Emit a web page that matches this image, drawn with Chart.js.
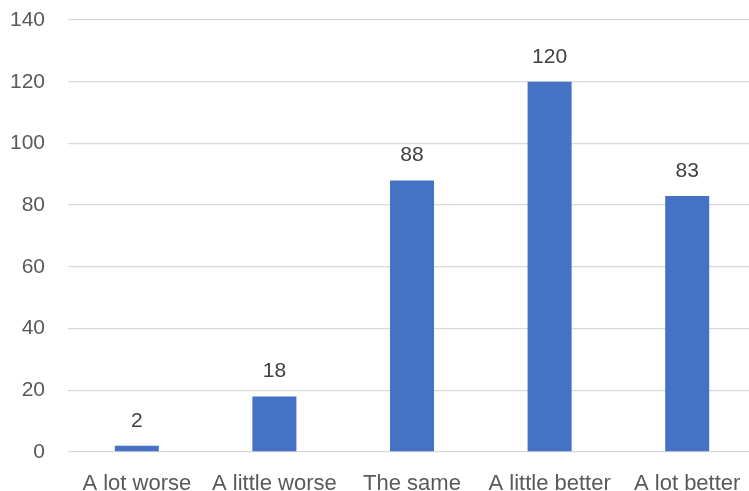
<!DOCTYPE html>
<html>
<head>
<meta charset="utf-8">
<script src="https://cdn.jsdelivr.net/npm/chart.js@4/dist/chart.umd.min.js"></script>
<style>
  html, body { margin: 0; padding: 0; background: #fff; overflow: hidden; width: 749px; height: 491px; }
  #wrap { width: 757px; height: 491px; }
</style>
</head>
<body>
<div id="wrap"><canvas id="c" width="757" height="491"></canvas></div>
<script>
const categories = ["A lot worse", "A little worse", "The same", "A little better", "A lot better"];
const responses = [2, 18, 88, 120, 83];
const yTicks = [0, 20, 40, 60, 80, 100, 120, 140];

const FONT = "'Liberation Sans', Arial, sans-serif";

// Draws each bar's value centred above it
const valueLabels = {
  id: "valueLabels",
  afterDatasetsDraw(chart) {
    const ctx = chart.ctx;
    const meta = chart.getDatasetMeta(0);
    ctx.save();
    ctx.font = "21px " + FONT;
    ctx.fillStyle = "#404040";
    ctx.textAlign = "center";
    ctx.textBaseline = "middle";
    meta.data.forEach((bar, i) => {
      ctx.fillText(String(chart.data.datasets[0].data[i]), bar.x, bar.y - 25);
    });
    ctx.restore();
  }
};

new Chart(document.getElementById("c"), {
  type: "bar",
  data: {
    labels: categories,
    datasets: [{
      data: responses,
      backgroundColor: "#4472C4",
      borderWidth: 0,
      categoryPercentage: 1,
      barPercentage: 0.32
    }]
  },
  options: {
    responsive: false,
    animation: false,
    layout: { padding: { top: 20, right: 1, bottom: 0, left: 0 } },
    plugins: { legend: { display: false }, tooltip: { enabled: false } },
    scales: {
      y: {
        min: 0,
        max: 140,
        afterBuildTicks(scale) { scale.ticks = yTicks.map(v => ({ value: v })); },
        afterFit(scale) {
          scale.width = 68;
          scale.paddingTop = 0;
          scale.paddingBottom = 0;
        },
        border: { display: false },
        grid: { color: "#d9d9d9", lineWidth: 1.3, drawTicks: false },
        ticks: { color: "#595959", font: { family: FONT, size: 21 }, padding: 23 }
      },
      x: {
        afterFit(scale) {
          scale.height = 39;
          scale.paddingLeft = 0;
          scale.paddingRight = 0;
        },
        border: { display: false },
        grid: { display: false, drawTicks: false },
        ticks: { color: "#595959", font: { family: FONT, size: 22 }, padding: 19, maxRotation: 0, autoSkip: false }
      }
    }
  },
  plugins: [valueLabels]
});
</script>
</body>
</html>
